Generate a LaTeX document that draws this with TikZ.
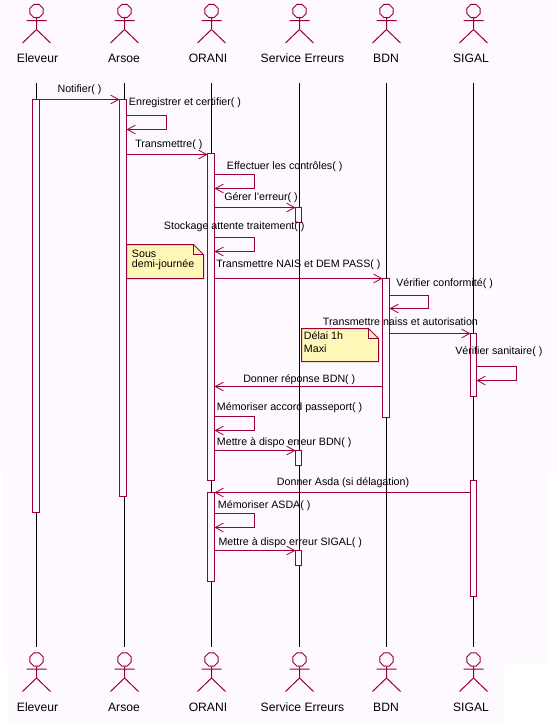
\documentclass[tikz,border=0pt]{standalone}
\usepackage{fontspec}
\setmainfont{Liberation Sans}
\usetikzlibrary{arrows.meta,shapes.geometric}
\definecolor{rosered}{HTML}{990033}
\definecolor{notefill}{HTML}{FFF7B8}
\definecolor{pagetint}{HTML}{FDF9FF}
\tikzset{
    lifeline/.style={black, line width=0.75pt},
    actbar/.style={draw=rosered, fill=pagetint, line width=0.75pt, rectangle, minimum width=5.25pt, inner sep=0pt, outer sep=0pt, anchor=north},
    thinbar/.style={actbar, minimum width=4.5pt},
    msg/.style={draw=rosered, line width=0.75pt, -{Straight Barb[length=6pt,width=6.5pt,line width=0.6pt]}},
    msglabel/.style={anchor=base west, inner sep=0pt, font=\fontsize{8}{10}\selectfont},
    actorlabel/.style={anchor=base, inner sep=0pt, font=\fontsize{9.1}{11}\selectfont},
    notebox/.style={draw=rosered, fill=notefill, line width=0.75pt, line join=miter},
    actorhead/.style={draw=rosered, line width=0.75pt, regular polygon, regular polygon sides=8, minimum size=10.6pt, inner sep=0pt},
    actorlimb/.style={draw=rosered, line width=0.75pt},
    pics/actor/.style={code={
        \node[actorhead] (-head) at (0,0) {};
        \draw[actorlimb] (-head.south) -- (0,18.5) (-10,9.5) -- (10,9.5) (-14,32) -- (0,18.5) -- (14,32);
    }}
}
\begin{document}
\begin{tikzpicture}[x=0.75pt, y=-0.75pt]
    \useasboundingbox (0,0) rectangle (557,722);
    % fond
    \fill[pagetint] (0,0) -- (557,0) -- (557,472) -- (547,472) -- (547,663) -- (503,663) -- (503,722)
        -- (8,722) -- (8,663) -- (3,663) -- (3,472) -- (0,472) -- cycle;
    % acteurs et lignes de vie
    \foreach \nm/\ax/\lx/\txt in {eleveur/36.5/37.5/Eleveur, arsoe/124.5/124/Arsoe, orani/211.5/208/ORANI,
        erreurs/299.5/302.5/Service Erreurs, bdn/386.5/386/BDN, sigal/473.5/471/SIGAL} {
        \pic (\nm top) at (\ax,11) {actor};
        \pic (\nm bot) at (\ax,659.5) {actor};
        \node[actorlabel] (\nm toplabel) at (\lx,62.3) {\txt};
        \node[actorlabel] (\nm botlabel) at (\lx,711.7) {\txt};
        \coordinate (\nm start) at (\ax,83);
        \coordinate (\nm end) at (\ax,647);
        \draw[lifeline] (\nm start) -- (\nm end);
    }
    % barres d'activation
    \node[actbar, minimum height=309.75pt] (eleveurbar) at (36,99.5) {};
    \node[actbar, minimum height=297.75pt] (arsoebar) at (123,99.5) {};
    \node[actbar, minimum height=245.25pt] (oranibar) at (211,153.5) {};
    \node[actbar, minimum height=66.75pt] (oranibarb) at (211,492.5) {};
    \node[thinbar, minimum height=11.25pt] (erreursbar) at (298.5,207.5) {};
    \node[thinbar, minimum height=11.25pt] (erreursbarb) at (298.5,450.5) {};
    \node[thinbar, minimum height=11.25pt] (erreursbarc) at (298.5,550.5) {};
    \node[actbar, minimum height=104.25pt] (bdnbar) at (386,278.5) {};
    \node[thinbar, minimum height=47.25pt] (sigalbar) at (473.5,333.5) {};
    \node[thinbar, minimum height=87pt] (sigalbarb) at (473.5,480.5) {};
    % niveaux des messages
    \foreach \nm/\y in {notifier/99.5, enregistrer/115.5, transmettre/154.5, effectuer/174.5, gerer/207.5,
        stockage/237.5, nais/278.5, conforme/295.5, naiss/333.5, sanitaire/366.5, reponse/386.5,
        accord/416.5, dispobdn/450.5, asda/492.5, memasda/513.5, disposigal/550.5} {
        \coordinate (\nm) at (0,\y);
    }
    % messages
    \draw[msg] (eleveurbar.east |- notifier) -- (arsoebar.west |- notifier);
    \draw[msg] (arsoebar.east |- enregistrer) -- ++(40,0) -- ++(0,14) -- ++(-40,0);
    \draw[msg] (arsoebar.east |- transmettre) -- (oranibar.west |- transmettre);
    \draw[msg] (oranibar.east |- effectuer) -- ++(40,0) -- ++(0,14) -- ++(-40,0);
    \draw[msg] (oranibar.east |- gerer) -- (erreursbar.west |- gerer);
    \draw[msg] (oranibar.east |- stockage) -- ++(40,0) -- ++(0,14) -- ++(-40,0);
    \draw[msg] (oranibar.east |- nais) -- (bdnbar.west |- nais);
    \draw[msg] (bdnbar.east |- conforme) -- ++(39,0) -- ++(0,13) -- ++(-39,0);
    \draw[msg] (bdnbar.east |- naiss) -- (sigalbar.west |- naiss);
    \draw[msg] (sigalbar.east |- sanitaire) -- ++(40,0) -- ++(0,14) -- ++(-40,0);
    \draw[msg] (bdnbar.west |- reponse) -- (oranibar.east |- reponse);
    \draw[msg] (oranibar.east |- accord) -- ++(40,0) -- ++(0,14) -- ++(-40,0);
    \draw[msg] (oranibar.east |- dispobdn) -- (erreursbarb.west |- dispobdn);
    \draw[msg] (sigalbarb.west |- asda) -- (oranibarb.east |- asda);
    \draw[msg] (oranibarb.east |- memasda) -- ++(40,0) -- ++(0,14) -- ++(-40,0);
    \draw[msg] (oranibarb.east |- disposigal) -- (erreursbarc.west |- disposigal);
    % notes
    \draw[notebox] (126.5,244.5) -- (193.5,244.5) -- (203.5,254.5) -- (203.5,278.5) -- (126.5,278.5) -- cycle;
    \draw[rosered, line width=0.75pt] (193.5,244.5) -- (193.5,254.5) -- (203.5,254.5);
    \draw[notebox] (301.5,328.5) -- (368.5,328.5) -- (378.5,338.5) -- (378.5,361.5) -- (301.5,361.5) -- cycle;
    \draw[rosered, line width=0.75pt] (368.5,328.5) -- (368.5,338.5) -- (378.5,338.5);
    \node[msglabel] (notesous) at (131.7,257.7) {Sous};
    \node[msglabel] (notedemi) at (131.7,267.7) {demi-journée};
    \node[msglabel] (notedelai) at (303.7,339.3) {Délai 1h};
    \node[msglabel] (notemaxi) at (303.7,352.7) {Maxi};
    % libellés
    \node[msglabel] (labnotifier) at (57.3,92.3) {Notifier( )};
    \node[msglabel] (labenregistrer) at (128.7,105) {Enregistrer et certifier( )};
    \node[msglabel] (labtransmettre) at (135,147) {Transmettre( )};
    \node[msglabel] (labeffectuer) at (226.7,169) {Effectuer les contrôles( )};
    \node[msglabel] (labgerer) at (224,200.7) {Gérer l'erreur( )};
    \node[msglabel] (labstockage) at (163.7,229.7) {Stockage attente traitement( )};
    \node[msglabel] (labnais) at (216,267.7) {Transmettre NAIS et DEM PASS( )};
    \node[msglabel] (labconforme) at (396,286.7) {Vérifier conformité( )};
    \node[msglabel] (labnaiss) at (322.7,325.7) {Transmettre naiss et autorisation};
    \node[msglabel] (labsanitaire) at (455,354) {Vérifier sanitaire( )};
    \node[msglabel] (labreponse) at (243,382) {Donner réponse BDN( )};
    \node[msglabel] (labaccord) at (216.7,410.7) {Mémoriser accord passeport( )};
    \node[msglabel] (labdispobdn) at (216.7,445) {Mettre à dispo erreur BDN( )};
    \node[msglabel] (labasda) at (276.7,485.7) {Donner Asda (si délagation)};
    \node[msglabel] (labmemasda) at (217.7,508.7) {Mémoriser ASDA( )};
    \node[msglabel] (labdisposigal) at (218.3,545) {Mettre à dispo erreur SIGAL( )};
\end{tikzpicture}
\end{document}
